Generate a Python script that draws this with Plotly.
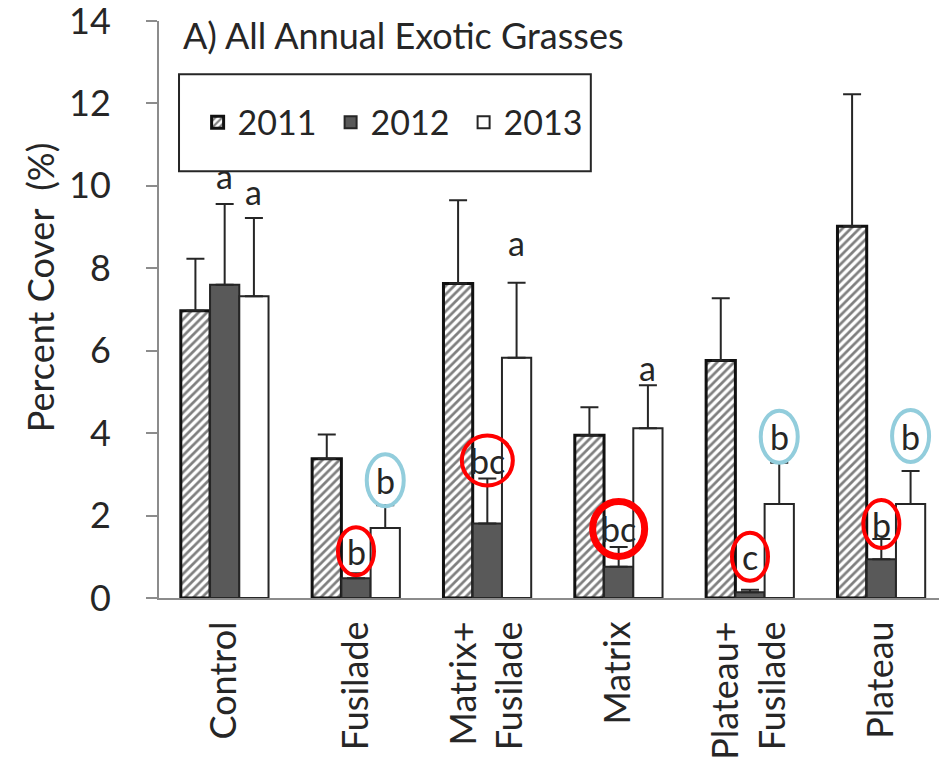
import plotly.graph_objects as go

# ---------------- data ----------------
categories = ["Control", "Fusilade", "Matrix+<br>Fusilade", "Matrix", "Plateau+<br>Fusilade", "Plateau"]
years = ["2011", "2012", "2013"]

cover_2011 = [6.97, 3.38, 7.63, 3.95, 5.76, 9.02]
cover_2012 = [7.60, 0.48, 1.81, 0.76, 0.14, 0.94]
cover_2013 = [7.32, 1.70, 5.83, 4.12, 2.28, 2.28]

se_2011 = [1.26, 0.59, 2.02, 0.68, 1.51, 3.20]
se_2012 = [1.96, 0.12, 1.09, 0.48, 0.06, 0.49]
se_2013 = [1.90, 0.55, 1.82, 1.04, 1.00, 0.80]

# significance letters (category index, year index, letter)
letter_cat = [0, 0, 1, 1, 2, 2, 3, 3, 4, 4, 5, 5]
letter_year = [1, 2, 1, 2, 1, 2, 1, 2, 1, 2, 1, 2]
letter_text = ["a", "a", "b", "b", "bc", "a", "bc", "a", "c", "b", "b", "b"]
letter_circle = [None, None, "red", "blue", "red-wide", None, "red-thick", None, "red", "blue", "red", "blue"]

# ---------------- style ----------------
FONT = "Lato"
TXT = "#262626"
AXIS = "#8C8C8C"
bargap = 0.332
bar_w = (1 - bargap) / 3
letter_shift = [28, 27, 22, 25, 18, 40, 18, 18, 33, 26, 15, 35]
circle_style = {
    "red": dict(color="#FF0000", width=4, w=36, h=48),
    "red-wide": dict(color="#FF0000", width=4, w=51, h=50),
    "red-thick": dict(color="#FF0000", width=7, w=52, h=55),
    "blue": dict(color="#92CDDC", width=4, w=37, h=52),
}

values = [cover_2011, cover_2012, cover_2013]
errors = [se_2011, se_2012, se_2013]

fig = go.Figure()
marker_styles = [
    dict(color="white", pattern=dict(shape="/", fgcolor="#000000", bgcolor="white", size=6, solidity=0.45),
         line=dict(color="#111111", width=3)),
    dict(color="#595959", line=dict(color="#262626", width=2)),
    dict(color="white", line=dict(color="#262626", width=2)),
]
for k in range(3):
    fig.add_trace(go.Bar(
        x=categories, y=values[k], name=years[k], marker=marker_styles[k],
        error_y=dict(type="data", array=errors[k], arrayminus=[0] * len(categories), symmetric=False,
                     color="#262626", thickness=2, width=9),
    ))

# letters + circles
for i in range(len(letter_text)):
    c, yr = letter_cat[i], letter_year[i]
    xpos = c + (yr - 1) * bar_w
    ytop = values[yr][c] + errors[yr][c]
    fig.add_annotation(x=xpos, y=ytop, xref="x", yref="y", text=letter_text[i], showarrow=False,
                       yanchor="middle", yshift=letter_shift[i],
                       font=dict(family=FONT, size=34, color=TXT))
    if letter_circle[i]:
        st = circle_style[letter_circle[i]]
        s = letter_shift[i]
        fig.add_shape(type="circle", xref="x", yref="y", xsizemode="pixel", ysizemode="pixel",
                      xanchor=xpos, yanchor=ytop,
                      x0=-st["w"] / 2, x1=st["w"] / 2, y0=s - st["h"] / 2, y1=s + st["h"] / 2,
                      line=dict(color=st["color"], width=st["width"]), fillcolor="rgba(0,0,0,0)")

# legend frame
fig.add_shape(type="rect", xref="paper", yref="paper", x0=0.0254, x1=0.548, y0=0.7395, y1=0.9076,
              line=dict(color="#262626", width=2), fillcolor="white", layer="below")

# title text
fig.add_annotation(x=0.028, y=0.975, xref="paper", yref="paper", xanchor="left", yanchor="middle",
                   text="A) All Annual Exotic Grasses", showarrow=False,
                   font=dict(family=FONT, size=36, color=TXT))
# y axis title
fig.add_annotation(x=-0.151, y=0.537, xref="paper", yref="paper", xanchor="center", yanchor="middle",
                   textangle=-90, text="Percent Cover\u00a0\u00a0(%)", showarrow=False,
                   font=dict(family=FONT, size=36, color=TXT))

fig.update_layout(
    width=947, height=768,
    margin=dict(l=151, r=8, t=13, b=178, autoexpand=False),
    paper_bgcolor="white", plot_bgcolor="white",
    barmode="group", bargap=bargap, bargroupgap=0,
    font=dict(family=FONT, color=TXT),
    legend=dict(orientation="h", x=0.049, y=0.824, xanchor="left", yanchor="middle",
                bgcolor="rgba(0,0,0,0)", font=dict(family=FONT, size=34, color=TXT),
                entrywidth=88, itemwidth=30),
    xaxis=dict(showline=True, linecolor=AXIS, linewidth=2, ticks="", showgrid=False, automargin=False,
               tickangle=-90, tickfont=dict(family=FONT, size=36, color=TXT), ticklabelstandoff=7),
    yaxis=dict(range=[0, 14], tickvals=[0, 2, 4, 6, 8, 10, 12, 14], showline=True, linecolor=AXIS,
               linewidth=2, ticks="outside", ticklen=11, tickcolor=AXIS, tickwidth=2, automargin=False,
               showgrid=False, zeroline=False, tickfont=dict(family=FONT, size=36, color=TXT),
               ticklabelstandoff=28, ticklabeloverflow="allow"),
)

fig.write_html("out.html")
